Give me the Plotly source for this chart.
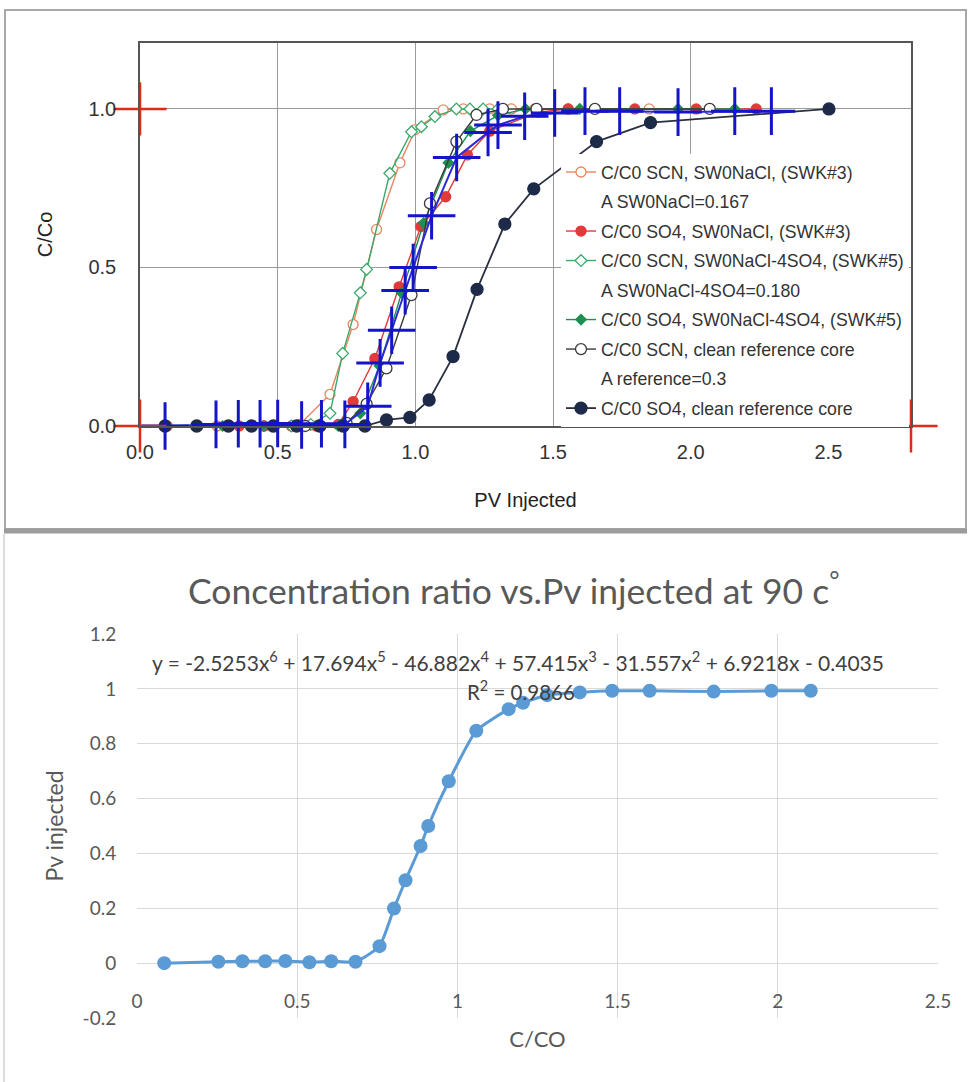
import plotly.graph_objects as go

W, H = 971, 1082
def fx(p):
    return p / W
def fy(p):
    return 1 - p / H

# ---------------- top chart data: C/Co vs PV injected ----------------
scn3_x = [0.10, 0.28, 0.45, 0.58, 0.69, 0.774, 0.859, 0.944, 1.00, 1.101, 1.174, 1.270, 1.349, 1.434, 1.555, 1.849]
scn3_y = [0.0, 0.0, 0.0, 0.005, 0.10, 0.32, 0.62, 0.83, 0.935, 0.997, 1.0, 1.0, 1.0, 1.0, 1.0, 1.0]

so3_x = [0.36, 0.45, 0.55, 0.64, 0.72, 0.774, 0.853, 0.941, 1.02, 1.11, 1.189, 1.27, 1.446, 1.555, 1.797, 2.02, 2.238]
so3_y = [0.0, 0.0, 0.0, 0.0, 0.005, 0.077, 0.213, 0.439, 0.629, 0.723, 0.855, 0.93, 0.99, 1.0, 1.0, 1.0, 1.0]

scn5_x = [0.55, 0.62, 0.69, 0.736, 0.80, 0.823, 0.907, 0.986, 1.022, 1.071, 1.149, 1.198, 1.246, 1.30]
scn5_y = [0.0, 0.005, 0.04, 0.229, 0.42, 0.494, 0.797, 0.928, 0.944, 0.976, 1.0, 1.0, 1.0, 1.0]

so5_x = [0.30, 0.45, 0.60, 0.72, 0.80, 0.87, 0.95, 1.03, 1.12, 1.20, 1.30, 1.40, 1.597, 1.954, 2.16]
so5_y = [0.0, 0.0, 0.0, 0.0, 0.04, 0.19, 0.42, 0.64, 0.83, 0.93, 0.98, 1.0, 1.0, 1.0, 1.0]

scnref_x = [0.60, 0.75, 0.823, 0.895, 0.986, 1.053, 1.149, 1.222, 1.318, 1.44, 1.652, 2.069]
scnref_y = [0.0, 0.01, 0.07, 0.182, 0.413, 0.702, 0.897, 0.981, 1.0, 1.0, 1.0, 1.0]

so4ref_x = [0.091, 0.206, 0.321, 0.405, 0.484, 0.569, 0.653, 0.738, 0.817, 0.895, 0.98, 1.05, 1.137, 1.224, 1.325, 1.43, 1.658, 1.854, 2.502]
so4ref_y = [0.0, 0.0, 0.0, 0.0, 0.0, 0.0, 0.0, 0.0, 0.0, 0.019, 0.027, 0.082, 0.219, 0.431, 0.637, 0.748, 0.897, 0.957, 1.0]

digi_x = [0.091, 0.276, 0.357, 0.436, 0.500, 0.587, 0.659, 0.744, 0.827, 0.872, 0.914, 0.963, 0.992, 1.059,
          1.150, 1.264, 1.300, 1.397, 1.506, 1.616, 1.742, 1.954, 2.160, 2.293]
# calibration marks (red crosses)
cal_x = [0.0, 0.0, 2.8]
cal_y = [1.0, 0.0, 0.0]

top_xticks = [0.0, 0.5, 1.0, 1.5, 2.0, 2.5]
top_yticks = [0.0, 0.5, 1.0]

legend_labels = [
    "C/C0 SCN, SW0NaCl, (SWK#3)",
    "A SW0NaCl=0.167",
    "C/C0 SO4, SW0NaCl, (SWK#3)",
    "C/C0 SCN, SW0NaCl-4SO4, (SWK#5)",
    "A SW0NaCl-4SO4=0.180",
    "C/C0 SO4, SW0NaCl-4SO4, (SWK#5)",
    "C/C0 SCN, clean reference core",
    "A reference=0.3",
    "C/C0 SO4, clean reference core",
]

# ---------------- bottom chart data ----------------
cc0 = [0.085, 0.254, 0.329, 0.400, 0.463, 0.538, 0.606, 0.682, 0.757, 0.802, 0.838, 0.885, 0.909, 0.973,
       1.059, 1.160, 1.205, 1.280, 1.382, 1.483, 1.600, 1.800, 1.980, 2.103]
pv = [0.000, 0.005, 0.007, 0.007, 0.008, 0.003, 0.007, 0.005, 0.062, 0.199, 0.302, 0.427, 0.500, 0.663,
      0.847, 0.926, 0.949, 0.977, 0.987, 0.993, 0.993, 0.990, 0.993, 0.993]
bot_xticks = [0, 0.5, 1, 1.5, 2, 2.5]
bot_xtext = ["0", "0.5", "1", "1.5", "2", "2.5"]
bot_yticks = [-0.2, 0, 0.2, 0.4, 0.6, 0.8, 1.0, 1.2]
bot_ytext = ["-0.2", "0", "0.2", "0.4", "0.6", "0.8", "1", "1.2"]

TOPF = "Liberation Sans, Arial, sans-serif"
BOTF = "Lato, Carlito, Calibri, sans-serif"

fig = go.Figure()

def top_trace(x, y, name, rank, mcolor, mline, symbol, msize, lcolor, lwidth=1.4, dash="solid"):
    fig.add_trace(go.Scatter(
        x=x, y=y, name=name, mode="lines+markers", xaxis="x", yaxis="y",
        legendgroup=name, legendrank=rank, cliponaxis=False,
        line=dict(color=lcolor, width=lwidth, dash=dash),
        marker=dict(symbol=symbol, size=msize, color=mcolor, line=dict(color=mline, width=1.3)),
    ))

def text_entry(name, rank):
    fig.add_trace(go.Scatter(
        x=[None], y=[None], name=name, mode="lines", xaxis="x", yaxis="y",
        legendgroup=name, legendrank=rank,
        line=dict(color="rgba(0,0,0,0)", width=0),
    ))

top_trace(scn3_x, scn3_y, legend_labels[0], 1, "white", "#e8875f", "circle", 10, "#e8875f")
text_entry(legend_labels[1], 2)
top_trace(so3_x, so3_y, legend_labels[2], 3, "#e23a3a", "#e23a3a", "circle", 10, "#e23a3a")
top_trace(scn5_x, scn5_y, legend_labels[3], 4, "white", "#3da86c", "diamond", 9, "#3da86c")
text_entry(legend_labels[4], 5)
top_trace(so5_x, so5_y, legend_labels[5], 6, "#1e8f52", "#1e8f52", "diamond", 8, "#1e8f52")
top_trace(scnref_x, scnref_y, legend_labels[6], 7, "white", "#3a3a3a", "circle", 11, "#3a3a3a")
text_entry(legend_labels[7], 8)
top_trace(so4ref_x, so4ref_y, legend_labels[8], 9, "#1d2a48", "#1d2a48", "circle", 12, "#2a3040", lwidth=1.8)

fig.add_trace(go.Scatter(
    x=digi_x, y=pv, mode="lines+markers", xaxis="x", yaxis="y", showlegend=False, cliponaxis=False,
    line=dict(color="#2a2ad8", width=2),
    marker=dict(symbol="cross-thin", size=34, line=dict(color="#1414c8", width=3)),
))
fig.add_trace(go.Scatter(
    x=cal_x, y=cal_y, mode="markers", xaxis="x", yaxis="y", showlegend=False, cliponaxis=False,
    marker=dict(symbol="cross-thin", size=38, line=dict(color="#e02a1a", width=2.5)),
))

# bottom chart
fig.add_trace(go.Scatter(
    x=cc0, y=pv, mode="lines+markers", xaxis="x2", yaxis="y2", showlegend=False, cliponaxis=False,
    line=dict(color="#5b9bd5", width=3, shape="spline", smoothing=0.5),
    marker=dict(symbol="circle", size=14, color="#5b9bd5"),
))

top_plot = dict(x0=140, x1=911, y0=43, y1=426)
bot_plot = dict(x0=137, x1=938, y0=634, y1=1018)

fig.update_layout(
    template="none",
    width=W, height=H, autosize=False,
    margin=dict(l=0, r=0, t=0, b=0, pad=0),
    paper_bgcolor="white", plot_bgcolor="white",
    font=dict(family=TOPF, color="#333333"),
    xaxis=dict(
        domain=[fx(top_plot["x0"]), fx(top_plot["x1"])], anchor="y", range=[0, 2.8],
        tickvals=top_xticks, tickformat=".1f", showgrid=False, zeroline=False,
        minor=dict(tickvals=[0.5, 1.0, 1.5, 2.0], showgrid=True, gridcolor="#9a9a9a", gridwidth=1, ticks=""),
        showline=True, mirror=True, linecolor="#555555", linewidth=1.5,
        ticks="outside", ticklen=7, tickcolor="rgba(0,0,0,0)",
        tickfont=dict(size=20, color="#333", family=TOPF),
        title=dict(text="PV Injected", font=dict(size=20, color="#222", family=TOPF), standoff=31),
    ),
    yaxis=dict(
        domain=[fy(top_plot["y1"]), fy(top_plot["y0"])], anchor="x", range=[0, 1.208],
        tickvals=top_yticks, tickformat=".1f", showgrid=True, gridcolor="#9a9a9a", gridwidth=1, zeroline=False,
        showline=True, mirror=True, linecolor="#555555", linewidth=1.5,
        ticks="outside", ticklen=18, tickcolor="rgba(0,0,0,0)",
        tickfont=dict(size=20, color="#333", family=TOPF),
        title=dict(text="C/Co", font=dict(size=20, color="#222", family=TOPF), standoff=30),
    ),
    xaxis2=dict(
        domain=[fx(bot_plot["x0"]), fx(bot_plot["x1"])], anchor="free", position=fy(963), range=[0, 2.5],
        tickvals=bot_xticks, ticktext=bot_xtext, showgrid=True, gridcolor="#d9d9d9", gridwidth=1.3,
        zeroline=False, showline=False,
        ticks="outside", ticklen=21, tickcolor="rgba(0,0,0,0)",
        tickfont=dict(size=19, color="#595959", family=BOTF),
        title=dict(text="C/CO", font=dict(size=22, color="#595959", family=BOTF), standoff=20),
    ),
    yaxis2=dict(
        domain=[fy(bot_plot["y1"]), fy(bot_plot["y0"])], anchor="x2", range=[-0.2, 1.2],
        tickvals=bot_yticks, ticktext=bot_ytext, showgrid=True, gridcolor="#d9d9d9", gridwidth=1.3,
        zeroline=False, showline=False,
        ticks="outside", ticklen=16, tickcolor="rgba(0,0,0,0)",
        tickfont=dict(size=19, color="#595959", family=BOTF),
        title=dict(text="Pv injected", font=dict(size=23, color="#595959", family=BOTF), standoff=12),
    ),
    legend=dict(
        x=fx(561), y=fy(154), xanchor="left", yanchor="top",
        bgcolor="white", borderwidth=0, itemwidth=30,
        font=dict(size=17.7, color="#333", family=TOPF),
        tracegroupgap=3.5, traceorder="grouped",
    ),
    annotations=[
        dict(text="Concentration ratio vs.Pv injected at 90 c<sup>°</sup>", xref="paper", yref="paper",
             x=fx(513), y=fy(588), xanchor="center", yanchor="middle", showarrow=False,
             font=dict(size=35.5, color="#595959", family=BOTF)),
        dict(text="y = -2.5253x<sup>6</sup> + 17.694x<sup>5</sup> - 46.882x<sup>4</sup> + 57.415x<sup>3</sup>"
                  " - 31.557x<sup>2</sup> + 6.9218x - 0.4035",
             xref="paper", yref="paper", x=fx(150), y=fy(661), xanchor="left", yanchor="middle",
             showarrow=False, font=dict(size=21, color="#404040", family=BOTF)),
        dict(text="R<sup>2</sup> = 0.9866", xref="paper", yref="paper", x=fx(465), y=fy(690),
             xanchor="left", yanchor="middle", showarrow=False,
             font=dict(size=20.5, color="#404040", family=BOTF)),
    ],
    shapes=[
        dict(type="rect", xref="paper", yref="paper", x0=fx(5), x1=fx(966), y0=fy(529), y1=fy(10),
             line=dict(color="#a8a8a8", width=2), layer="below"),
        dict(type="line", xref="paper", yref="paper", x0=fx(4), x1=fx(967), y0=fy(531), y1=fy(531),
             line=dict(color="#9c9c9c", width=5)),
        dict(type="line", xref="paper", yref="paper", x0=fx(4), x1=fx(4), y0=fy(534), y1=fy(1082),
             line=dict(color="#d0d0d0", width=1.5)),
    ],
)

fig.write_html("out.html")
